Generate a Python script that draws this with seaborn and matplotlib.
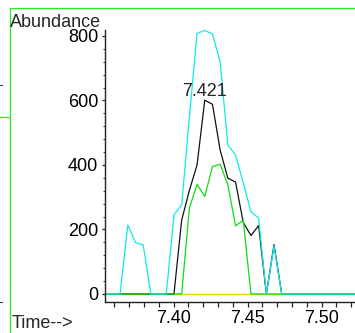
import matplotlib
matplotlib.use('Agg')
import matplotlib.pyplot as plt
import seaborn as sns
from matplotlib.lines import Line2D
from matplotlib.ticker import MultipleLocator, FormatStrFormatter

# retention time (min)
times = [7.3534, 7.3586, 7.3638, 7.3690, 7.3742, 7.3794, 7.3846, 7.3898,
         7.3950, 7.4002, 7.4054, 7.4106, 7.4158, 7.4210, 7.4262, 7.4314,
         7.4366, 7.4418, 7.4470, 7.4522, 7.4574, 7.4626, 7.4678, 7.4730,
         7.4782, 7.4834, 7.4886, 7.4938, 7.4990, 7.5042, 7.5094, 7.5146,
         7.5198, 7.5250]

# abundance traces
tic_black = [0, 0, 0, 0, 0, 0, 0, 0, 0, 0, 229, 321, 400, 601, 588, 446,
             359, 347, 222, 181, 212, 0, 153, 0, 0, 0, 0, 0, 0, 0, 0, 0, 0, 0]
ion_green = [0, 0, 0, 0, 0, 0, 0, 0, 0, 0, 0, 266, 340, 302, 395, 402,
             338, 211, 229, 0, 0, 0, 0, 0, 0, 0, 0, 0, 0, 0, 0, 0, 0, 0]
ion_cyan = [0, 0, 0, 214, 159, 152, 0, 0, 0, 245, 276, 548, 808, 817, 806, 720,
            462, 431, 345, 255, 235, 0, 149, 0, 0, 0, 0, 0, 0, 0, 0, 0, 0, 0]
ion_yellow = [0] * len(times)

peak_time = 7.421
peak_label = "7.421"

sns.set_style("ticks")
plt.rcParams['font.family'] = ['Liberation Sans', 'DejaVu Sans']
plt.rcParams['font.size'] = 13

fig = plt.figure(figsize=(3.55, 3.33), dpi=100)
ax = fig.add_axes([105/355, 31/333, 250/355, 272.5/333])

lw = 0.9
sns.lineplot(x=times, y=ion_yellow, color='#e6d200', linewidth=lw, ax=ax)
sns.lineplot(x=times, y=tic_black, color='#111111', linewidth=lw, ax=ax)
sns.lineplot(x=times, y=ion_green, color='#11dd11', linewidth=lw, ax=ax)
sns.lineplot(x=times, y=ion_cyan, color='#10eaea', linewidth=lw, ax=ax)

peak_val = tic_black[times.index(peak_time)]
ax.annotate(peak_label, xy=(peak_time, peak_val), xytext=(0, 3),
            textcoords='offset points', ha='center', va='baseline')

ax.set_xlim(7.3536, 7.5225)
ax.set_ylim(-25, 820)
ax.xaxis.set_major_locator(MultipleLocator(0.05))
ax.xaxis.set_minor_locator(MultipleLocator(0.01))
ax.xaxis.set_major_formatter(FormatStrFormatter('%.2f'))
ax.yaxis.set_major_locator(MultipleLocator(200))
ax.yaxis.set_minor_locator(MultipleLocator(40))
ax.set_xlabel('')
ax.set_ylabel('')
for s in ['top', 'right']:
    ax.spines[s].set_visible(False)
for s in ['left', 'bottom']:
    ax.spines[s].set_linewidth(1.0)
    ax.spines[s].set_color('#222222')
ax.tick_params(axis='x', which='both', direction='out', length=3.5, width=0.9,
               pad=2.5, colors='#222222', labelcolor='black')
ax.tick_params(axis='y', which='major', direction='out', length=2.5, width=0.9,
               pad=2.5, colors='#222222', labelcolor='black')
ax.tick_params(axis='y', which='minor', direction='out', length=1.8, width=0.8,
               colors='#444444')

fig.text(10/355, 1 - 27/333, 'Abundance', ha='left', va='baseline')
fig.text(12/355, 5/333, 'Time-->', ha='left', va='baseline')

# frame remnants from the screenshot
frame = '#22ee22'
fig.add_artist(Line2D([9.5/355, 1], [1 - 7.5/333] * 2, color=frame, lw=0.9))
fig.add_artist(Line2D([9.5/355] * 2, [0, 1 - 7.5/333], color=frame, lw=0.9))
fig.add_artist(Line2D([0, 9.5/355], [1 - 116.5/333] * 2, color=frame, lw=0.9))
fig.add_artist(Line2D([0, 2/355], [1 - 84.5/333] * 2, color='#333333', lw=0.8))
fig.add_artist(Line2D([0, 2/355], [1 - 301.5/333] * 2, color='#333333', lw=0.8))

fig.savefig('out.png', dpi=100)
